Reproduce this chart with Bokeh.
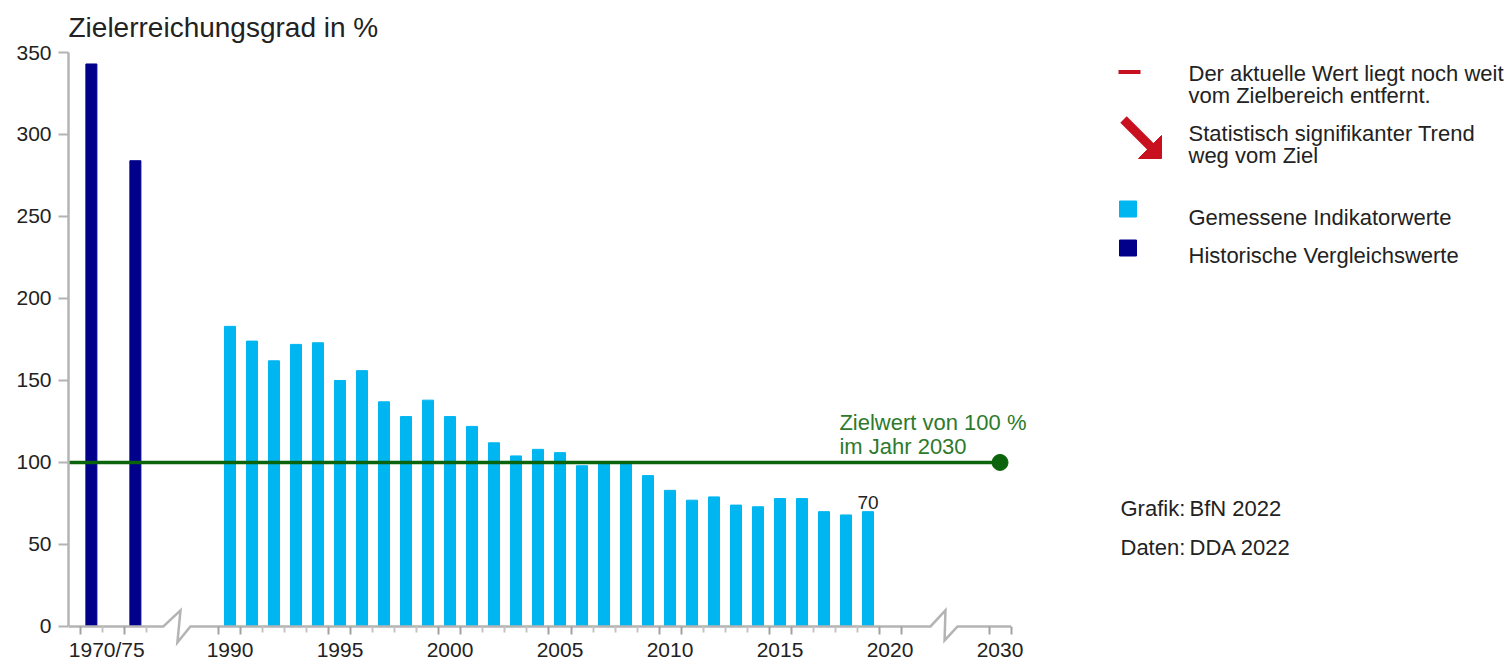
from bokeh.plotting import figure
from bokeh.models import Range1d, LinearAxis, FixedTicker, CustomJSTickFormatter
from bokeh.layouts import row
from bokeh.embed import file_html
from bokeh.resources import INLINE
from bokeh.core.properties import value

# ---------------- data ----------------
hist_years = [1970, 1975]
hist_values = [343, 284]
years = list(range(1990, 2020))
values = [183, 174, 162, 172, 173, 150, 156, 137, 128, 138,
          128, 122, 112, 104, 108, 106, 98, 100, 99, 92,
          83, 77, 79, 74, 73, 78, 78, 70, 68, 70]
target_year = 2030
target_value = 100
x_tick_labels = ["1970/75", "1990", "1995", "2000", "2005", "2010", "2015", "2020", "2030"]
y_ticks = [0, 50, 100, 150, 200, 250, 300, 350]
title_text = "Zielerreichungsgrad in %"
target_text = ["Zielwert von 100 %", "im Jahr 2030"]
legend_texts = ["Der aktuelle Wert liegt noch weit", "vom Zielbereich entfernt.",
                "Statistisch signifikanter Trend", "weg vom Ziel",
                "Gemessene Indikatorwerte", "Historische Vergleichswerte"]
source_keys = ["Grafik:", "Daten:"]
source_vals = ["BfN 2022", "DDA 2022"]

# ---------------- styles ----------------
FONT = "Liberation Sans"
CYAN = "#00b6f1"
NAVY = "#00008b"
GREEN_LINE = "#0b630b"
GREEN_TEXT = "#2d7a2d"
RED = "#c8101e"
GRAY = "#b4b4b4"
TXT = "#222222"

W_MAIN, W_LEG, H = 1040, 470, 664
TOP = 52


# compressed x axis (two breaks)
def xpos(year):
    if year < 1990:
        return 1983.7 + (year - 1970) * 0.4
    if year <= 2020:
        return float(year)
    return 2020 + (year - 2020) * 0.5


hist_x = [xpos(y) for y in hist_years]
bar_x = [xpos(y) for y in years]
target_x = xpos(target_year)
label_pos = [xpos(1971.75)] + [xpos(int(l)) for l in x_tick_labels[1:]]

# tick boundaries
bracket = [hist_x[0] - 0.5, hist_x[1] - 0.5]
for l in x_tick_labels[1:]:
    c = xpos(int(l))
    bracket += [c - 0.5, c + 0.5]
all_bounds = [h - 0.5 for h in hist_x] + [h + 0.5 for h in hist_x] + \
             [y - 0.5 for y in range(1990, 2021)] + [2020.5]
minor = sorted(set(round(b, 3) for b in all_bounds) - set(round(b, 3) for b in bracket))

x_left = 1982.66
p = figure(width=W_MAIN, height=H, x_range=Range1d(x_left, 2026.84), y_range=Range1d(-23.2, 350),
           toolbar_location=None, output_backend="svg", x_axis_location=None,
           min_border_left=68, min_border_right=0, min_border_top=TOP, min_border_bottom=0,
           outline_line_color=None, background_fill_color="white")
p.grid.visible = False

p.title.text = title_text
p.title.text_font = FONT
p.title.text_font_size = "28px"
p.title.text_font_style = "normal"
p.title.text_color = TXT
p.title.align = "left"
p.title.standoff = 19

# y axis
ya = p.yaxis[0]
ya.ticker = FixedTicker(ticks=y_ticks)
ya.bounds = (0, 350)
ya.axis_line_color = GRAY
ya.axis_line_width = 2.5
ya.major_tick_line_color = GRAY
ya.major_tick_line_width = 2
ya.major_tick_out = 10
ya.major_tick_in = 0
ya.minor_tick_line_color = None
ya.major_label_text_font = FONT
ya.major_label_text_font_size = "21px"
ya.major_label_text_color = TXT
ya.major_label_standoff = 7

# bars
p.vbar(x=hist_x, top=hist_values, width=0.5, color=NAVY)
p.vbar(x=bar_x, top=values, width=0.5, color=CYAN)

# x axis line with breaks (drawn as glyphs)
b1a, b1b = 1986.97, 1988.2
b2a, b2b = 2021.84, 2023.07
xs = [[x_left, b1a, 1987.75, 1987.61, b1b, b2a, 2022.52, 2022.48, b2b, target_x + 0.5]]
ys = [[0, 0, 9.8, -9.8, 0, 0, 9.8, -8.5, 0, 0]]
p.multi_line(xs=xs, ys=ys, line_color=GRAY, line_width=2.5, line_join="miter")

# tick marks axis (fixed at y=0)
ticks_axis = LinearAxis(fixed_location=0,
                        ticker=FixedTicker(ticks=bracket, minor_ticks=minor),
                        formatter=CustomJSTickFormatter(code="return ''"),
                        axis_line_color=None,
                        major_tick_line_color="#a2a2a2", major_tick_line_width=2,
                        major_tick_out=8, major_tick_in=0,
                        minor_tick_line_color="#c4c4c4", minor_tick_line_width=2,
                        minor_tick_out=6, minor_tick_in=0,
                        major_label_text_font_size="1px")
p.add_layout(ticks_axis, "below")

# label axis (fixed at y=0)
label_axis = LinearAxis(fixed_location=0,
                        ticker=FixedTicker(ticks=label_pos),
                        formatter=CustomJSTickFormatter(
                            args=dict(pos=label_pos, labels=x_tick_labels),
                            code="const i = pos.findIndex(v => Math.abs(v - tick) < 1e-6); return i >= 0 ? labels[i] : '';"),
                        axis_line_color=None, major_tick_line_color=None, minor_tick_line_color=None,
                        major_tick_out=0, major_tick_in=0, major_label_standoff=12,
                        major_label_text_font=FONT, major_label_text_font_size="21px",
                        major_label_text_color=TXT)
p.add_layout(label_axis, "below")

# target line
p.line([x_left, target_x], [target_value, target_value], line_color=GREEN_LINE, line_width=3.5)
p.scatter(x=[target_x], y=[target_value], size=16, color=GREEN_LINE)
p.text(x=[2017.7, 2017.7], y=[target_value + 24.6, target_value + 10.0], text=target_text,
       text_font=value(FONT), text_font_size="22px", text_color=GREEN_TEXT,
       text_baseline="alphabetic", text_align="left")

# last value label
p.text(x=[bar_x[-1]], y=[values[-1]], text=[str(values[-1])], y_offset=-9,
       text_font=value(FONT), text_font_size="19px", text_color=TXT,
       text_baseline="alphabetic", text_align="center")

# ---------------- legend panel (page-pixel coordinates) ----------------
p2 = figure(width=W_LEG, height=H, x_range=Range1d(W_MAIN, W_MAIN + W_LEG), y_range=Range1d(H, TOP),
            toolbar_location=None, output_backend="svg", x_axis_location=None, y_axis_location=None,
            min_border_left=0, min_border_right=0, min_border_top=TOP, min_border_bottom=0,
            outline_line_color=None)
p2.grid.visible = False

p2.segment(x0=[1118], y0=[71.5], x1=[1140], y1=[71.5], line_color=RED, line_width=4)
p2.line([1123, 1150], [119, 146], line_color=RED, line_width=9)
p2.patch([1138, 1161, 1161], [158, 158, 135], color=RED)
p2.rect(x=[1127.5, 1127.5], y=[208.5, 247.5], width=17, height=16, color=[CYAN, NAVY])

p2.text(x=[1188] * 6, y=[73.3, 95, 133, 155, 216.7, 255], text=legend_texts,
        text_font=value(FONT), text_font_size="22px", text_color=TXT,
        text_baseline="alphabetic", text_align="left")
p2.text(x=[1120, 1120], y=[508, 547], text=source_keys,
        text_font=value(FONT), text_font_size="22px", text_color=TXT,
        text_baseline="alphabetic", text_align="left")
p2.text(x=[1189, 1189], y=[508, 547], text=source_vals,
        text_font=value(FONT), text_font_size="22px", text_color=TXT,
        text_baseline="alphabetic", text_align="left")

layout = row(p, p2)
open("out.html", "w").write(file_html(layout, INLINE))
